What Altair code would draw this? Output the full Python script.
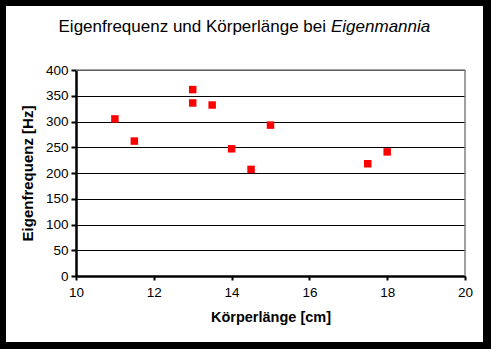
import altair as alt
import pandas as pd

laenge = [11, 11.5, 13, 13, 13.5, 14, 14.5, 15, 17.5, 18]
frequenz = [305, 262, 362, 336, 332, 247, 207, 293, 218, 241]

df = pd.DataFrame({"x": laenge, "y": frequenz})

W, H = 389, 206
PL, PT, PR, PB = 76, 70, 26, 73

one = pd.DataFrame({"a": [0]})

frame = alt.Chart(one).mark_rect(fill=None, stroke="black", strokeWidth=14, clip=False).encode(
    x=alt.value(-PL - 1), x2=alt.value(W + PR - 1),
    y=alt.value(-PT - 1), y2=alt.value(H + PB),
)

top_rule = alt.Chart(one).mark_rule(color="#808080", strokeWidth=1.5).encode(
    x=alt.value(0), x2=alt.value(W), y=alt.value(0))
right_rule = alt.Chart(one).mark_rule(color="#808080", strokeWidth=1.5).encode(
    x=alt.value(W), y=alt.value(0), y2=alt.value(H))

pts = alt.Chart(df).mark_square(color="#ff0000", opacity=1, size=56).encode(
    x=alt.X("x:Q", scale=alt.Scale(domain=[10, 20], nice=False),
            axis=alt.Axis(title="Körperlänge [cm]", values=[10, 12, 14, 16, 18, 20],
                          grid=False, domainColor="black", domainWidth=2.5,
                          tickColor="black", tickWidth=2, tickSize=4,
                          labelFont="Liberation Sans", labelFontSize=13.5, labelColor="black",
                          labelPadding=5, labelFlush=False,
                          titleFont="Liberation Sans", titleFontSize=14.5, titleFontWeight="bold",
                          titleColor="black", titlePadding=12)),
    y=alt.Y("y:Q", scale=alt.Scale(domain=[0, 400], nice=False),
            axis=alt.Axis(title="Eigenfrequenz [Hz]", values=list(range(0, 401, 50)),
                          grid=True, gridColor="black", gridWidth=1.2,
                          domainColor="black", domainWidth=2.5,
                          tickColor="black", tickWidth=2, tickSize=5,
                          labelFont="Liberation Sans", labelFontSize=13.5, labelColor="black",
                          labelPadding=3,
                          titleFont="Liberation Sans", titleFontSize=15, titleFontWeight="bold",
                          titleColor="black", titlePadding=10)),
)

t1 = alt.Chart(one).mark_text(
    text="Eigenfrequenz und Körperlänge bei", align="right", baseline="middle",
    font="Liberation Sans", fontSize=17, color="black"
).encode(x=alt.value(250), y=alt.value(-43))
t2 = alt.Chart(one).mark_text(
    text="Eigenmannia", align="left", baseline="middle",
    font="Liberation Sans", fontSize=17, fontStyle="italic", color="black"
).encode(x=alt.value(255), y=alt.value(-43))

chart = alt.layer(top_rule, right_rule, pts, t1, t2, frame).properties(
    width=W, height=H,
    padding={"left": PL, "top": PT, "right": PR, "bottom": PB},
    autosize=alt.AutoSizeParams(type="none"),
    background="white",
).configure_view(stroke=None)

chart.save("out.html", embed_options={"renderer": "svg", "actions": False})
